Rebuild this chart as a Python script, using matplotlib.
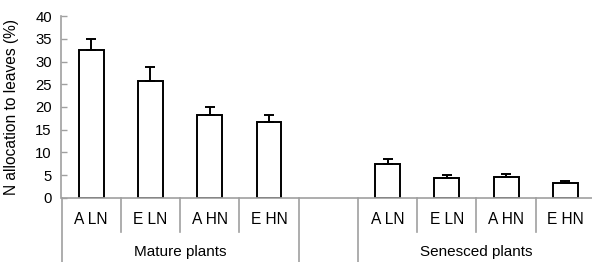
import matplotlib
matplotlib.use("Agg")
import matplotlib.pyplot as plt
import numpy as np

plt.rcParams['font.family'] = ['Liberation Sans', 'DejaVu Sans']

categories = ["A LN", "E LN", "A HN", "E HN"]
groups = ["Mature plants", "Senesced plants"]
mature_vals = [32.5, 25.8, 18.3, 16.8]
mature_err = [2.5, 3.1, 1.6, 1.4]
senesced_vals = [7.4, 4.35, 4.5, 3.25]
senesced_err = [1.2, 0.55, 0.8, 0.35]
yticks = [0, 5, 10, 15, 20, 25, 30, 35, 40]

W, H = 592, 262
fig = plt.figure(figsize=(W / 100, H / 100), dpi=100)
ax = fig.add_axes([61.5 / W, (H - 197.7) / H, (595 - 61.5) / W, 181.4 / H])

gray = "#a0a0a0"
pos_m = np.arange(4)
pos_s = np.arange(4) + 5
for pos, vals, errs in [(pos_m, mature_vals, mature_err), (pos_s, senesced_vals, senesced_err)]:
    ax.bar(pos, vals, width=0.42, color="white", edgecolor="black", linewidth=1.4, zorder=2)
    ax.errorbar(pos, vals, yerr=[np.zeros(len(errs)), errs], fmt="none", ecolor="black",
                elinewidth=1.4, capsize=3.6, capthick=1.4, zorder=3)

ax.set_xlim(-0.5, 8.5)
ax.set_ylim(0, 40)
ax.set_yticks(yticks)
ax.tick_params(axis="y", direction="in", length=4, color=gray, width=1, labelsize=10.7, pad=7)
ax.set_xticks([])
for s in ["top", "right"]:
    ax.spines[s].set_visible(False)
for s in ["left", "bottom"]:
    ax.spines[s].set_color(gray)
    ax.spines[s].set_linewidth(1.2)
fig.text(12 / W, 0.59, "N allocation to leaves (%)", rotation=90, ha="center", va="center",
         fontsize=11.2)

tr = ax.get_xaxis_transform()
short_y = -34 / 181.4
long_y = -0.5
for x in [0.5, 1.5, 2.5, 5.5, 6.5, 7.5]:
    ax.plot([x, x], [0, short_y], transform=tr, color=gray, lw=1.2, clip_on=False)
for x in [-0.5, 3.5, 4.5, 8.5]:
    ax.plot([x, x], [0, long_y], transform=tr, color=gray, lw=1.2, clip_on=False)

cat_y = -22 / 181.4
for pos in [pos_m, pos_s]:
    for p, c in zip(pos, categories):
        ax.text(p, cat_y, c, transform=tr, ha="center", va="center", fontsize=11.2)
grp_y = -54 / 181.4
ax.text(1.5, grp_y, groups[0], transform=tr, ha="center", va="center", fontsize=11)
ax.text(6.5, grp_y, groups[1], transform=tr, ha="center", va="center", fontsize=11)

fig.savefig("out.png", dpi=100)
